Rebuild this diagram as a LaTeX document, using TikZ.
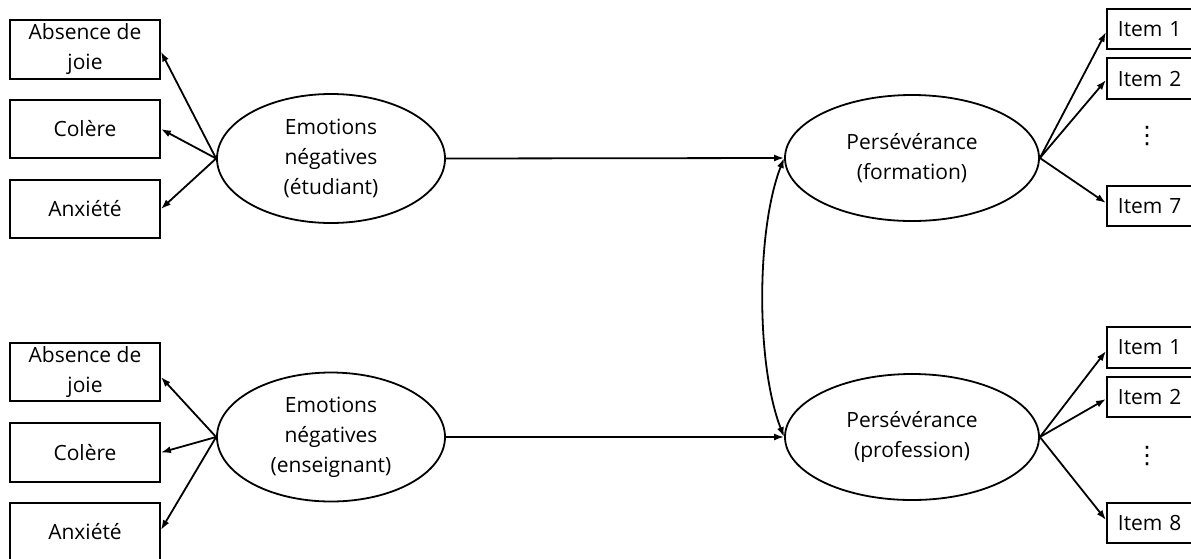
\documentclass[tikz,border=0pt]{standalone}
\usepackage{fontspec}
\setmainfont{Open Sans}
\newfontfamily\dvfont{DejaVu Sans}
\usetikzlibrary{arrows.meta,shapes.geometric}
\begin{document}
\begin{tikzpicture}[x=1pt,y=-1pt,
  every node/.style={font=\fontsize{21}{30}\selectfont},
  ind/.style={draw,line width=1.8pt,minimum width=150pt,inner sep=2pt,align=center},
  item/.style={draw,line width=1.8pt,anchor=west,text width=72pt,inner xsep=11pt,inner ysep=0pt,align=left},
  lat/.style={draw,ellipse,line width=1.8pt,minimum width=228pt,minimum height=129pt,inner sep=0pt,align=center},
  per/.style={draw,ellipse,line width=1.8pt,minimum width=254pt,minimum height=126pt,inner sep=0pt,align=center},
  vdot/.style={font=\dvfont\fontsize{24}{24}\selectfont,inner sep=0pt},
  arr/.style={line width=1.8pt,-{Latex[length=10pt,width=7pt]}},
  darr/.style={line width=1.8pt,{Latex[length=10pt,width=7pt]}-{Latex[length=10pt,width=7pt]}}]
\useasboundingbox (0,0) rectangle (1191,558);
\clip (0,0) rectangle (1191,558);
% left indicators (top)
\node[ind,minimum height=59pt] (a1) at (85,49.5) {Absence de\\joie};
\node[ind,minimum height=58pt] (c1) at (85,129) {Colère};
\node[ind,minimum height=58pt] (x1) at (85,209) {Anxiété};
% left indicators (bottom)
\node[ind,minimum height=58pt] (a2) at (85,372) {Absence de\\joie};
\node[ind,minimum height=59pt] (c2) at (85,452.5) {Colère};
\node[ind,minimum height=58pt] (x2) at (85,532) {Anxiété};
% latent left
\node[lat] (e1) at (331,158.5) {Emotions\\négatives\\(étudiant)};
\node[lat] (e2) at (331,437) {Emotions\\négatives\\(enseignant)};
% latent right
\node[per] (p1) at (912,158) {Persévérance\\(formation)};
\node[per] (p2) at (912,437) {Persévérance\\(profession)};
% right items (top)
\node[item,minimum height=40pt] (i11) at (1106,29) {Item 1};
\node[item,minimum height=41pt] (i12) at (1106,78.5) {Item 2};
\node[vdot] (d1) at (1147,136) {⋮};
\node[item,minimum height=40pt] (i17) at (1106,206) {Item 7};
% right items (bottom)
\node[item,minimum height=41pt] (i21) at (1106,347.5) {Item 1};
\node[item,minimum height=40pt] (i22) at (1106,397) {Item 2};
\node[vdot] (d2) at (1147,456) {⋮};
\node[item,minimum height=40pt] (i28) at (1106,523) {Item 8};
% loadings left
\draw[arr] (e1.west) -- ([yshift=-2pt]a1.east);
\draw[arr] (e1.west) -- (c1.east);
\draw[arr] (e1.west) -- (x1.east);
\draw[arr] (e2.west) -- ([yshift=-5pt]a2.east);
\draw[arr] (e2.west) -- (c2.east);
\draw[arr] (e2.west) -- ([yshift=2pt]x2.east);
% structural paths
\draw[arr] (e1.east) -- (p1.west);
\draw[arr] (e2.east) -- (p2.west);
\draw[darr] (p1.west) .. controls (756,230) and (756,365) .. (p2.west);
% loadings right
\draw[arr] (p1.east) -- ([yshift=-3pt]i11.west);
\draw[arr] (p1.east) -- ([yshift=-1.5pt]i12.west);
\draw[arr] (p1.east) -- ([yshift=3pt]i17.west);
\draw[arr] (p2.east) -- ([yshift=-3.5pt]i21.west);
\draw[arr] (p2.east) -- ([yshift=-2pt]i22.west);
\draw[arr] (p2.east) -- ([yshift=3pt]i28.west);
\end{tikzpicture}
\end{document}
